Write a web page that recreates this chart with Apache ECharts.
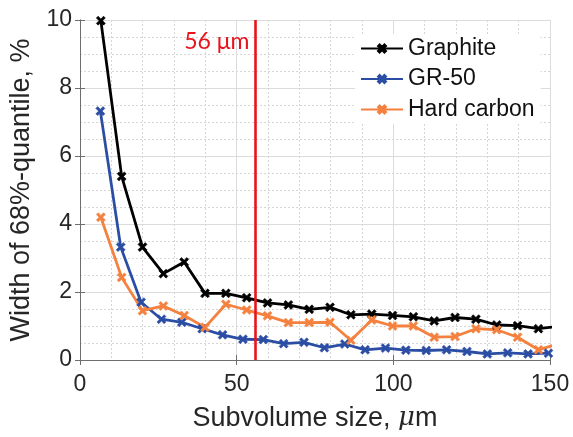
<!DOCTYPE html>
<html>
<head>
<meta charset="utf-8">
<script src="https://cdn.jsdelivr.net/npm/echarts@6/dist/echarts.min.js"></script>
<style>
  html, body { margin: 0; padding: 0; background: #fff; }
  #chart { width: 573px; height: 437px; }
</style>
</head>
<body>
<div id="chart"></div>
<script>
// Subvolume sizes (µm) used for Graphite and Hard carbon
const sizesGraphite = [6.65, 13.3, 19.95, 26.6, 33.25, 39.9, 46.55, 53.2, 59.85, 66.5, 73.15, 79.8,
  86.45, 93.1, 99.75, 106.4, 113.05, 119.7, 126.35, 133, 139.65, 146.3, 152.95];
// Subvolume sizes (µm) used for GR-50
const sizesGR50 = [6.5, 13, 19.5, 26, 32.5, 39, 45.5, 52, 58.5, 65, 71.5, 78,
  84.5, 91, 97.5, 104, 110.5, 117, 123.5, 130, 136.5, 143, 149.5];

// Width of the 68%-quantile, %
const graphite = [9.98, 5.4, 3.32, 2.54, 2.88, 1.96, 1.96, 1.83, 1.68, 1.62, 1.49, 1.55,
  1.33, 1.35, 1.31, 1.27, 1.15, 1.25, 1.20, 1.03, 1.01, 0.92, 0.99];
const gr50 = [7.32, 3.32, 1.70, 1.20, 1.11, 0.92, 0.74, 0.61, 0.60, 0.48, 0.52, 0.36,
  0.47, 0.30, 0.35, 0.29, 0.28, 0.30, 0.25, 0.18, 0.21, 0.18, 0.20];
const hardCarbon = [4.20, 2.43, 1.45, 1.59, 1.31, 0.96, 1.64, 1.47, 1.30, 1.10, 1.10, 1.11,
  0.58, 1.18, 1.00, 1.00, 0.67, 0.69, 0.92, 0.89, 0.67, 0.30, 0.48];

const seriesNames = ['Graphite', 'GR-50', 'Hard carbon'];
const xTicks = [0, 50, 100, 150];
const yTicks = [0, 2, 4, 6, 8, 10];
const cutoffSize = 56;
const cutoffLabel = '56 μm';

const axisFont = 'Liberation Sans, Arial, sans-serif';
const textColor = '#262626';
const axisColor = '#6e6e6e';
// filled "x" marker
const crossMark = 'path://M0,2L2,0L5,3L8,0L10,2L7,5L10,8L8,10L5,7L2,10L0,8L3,5Z';

function pairs(xs, ys) { return xs.map((x, i) => [x, ys[i]]); }

function makeSeries(name, xs, ys, color, extra) {
  return Object.assign({
    name: name,
    type: 'line',
    data: pairs(xs, ys),
    symbol: crossMark,
    symbolSize: 9,
    clip: true,
    lineStyle: { color: color, width: 2.8 },
    itemStyle: { color: color, borderColor: color, borderWidth: 0.6 },
    emphasis: { disabled: true },
    z: 3
  }, extra || {});
}

const chart = echarts.init(document.getElementById('chart'), null, { renderer: 'canvas' });

const boxAxis = {
  axisLine: { show: true, lineStyle: { color: axisColor, width: 1 } },
  axisTick: { show: true, inside: true, length: 5, lineStyle: { color: axisColor } },
  axisLabel: { show: false },
  splitLine: { show: false },
  minorSplitLine: { show: false }
};

chart.setOption({
  animation: false,
  backgroundColor: '#fff',
  grid: { left: 80, right: 23, top: 20, bottom: 75 },
  legend: {
    data: seriesNames,
    orient: 'vertical',
    left: 355,
    top: 34,
    padding: [3, 6, 3, 5],
    backgroundColor: '#fff',
    itemWidth: 42,
    itemHeight: 10,
    itemGap: 7.5,
    textStyle: { fontFamily: axisFont, fontSize: 23, color: '#111' }
  },
  xAxis: [{
    type: 'value',
    min: xTicks[0],
    max: xTicks[xTicks.length - 1],
    interval: 50,
    name: 'Subvolume size, {mu|μ}m',
    nameLocation: 'middle',
    nameGap: 45,
    nameTextStyle: {
      fontFamily: axisFont, fontSize: 27, color: textColor,
      rich: { mu: { fontFamily: 'DejaVu Serif, serif', fontStyle: 'italic', fontSize: 26, color: textColor } }
    },
    axisLine: { show: true, onZero: false, lineStyle: { color: axisColor, width: 1 } },
    axisTick: { show: true, inside: true, length: 5, lineStyle: { color: axisColor } },
    axisLabel: { fontFamily: axisFont, fontSize: 23, color: textColor, margin: 13 },
    splitLine: { show: true, lineStyle: { color: '#dcdcdc', width: 1 } },
    minorTick: { show: false, splitNumber: 5 },
    minorSplitLine: { show: true, lineStyle: { color: '#d6d6d6', width: 1, type: [2, 2] } }
  }, Object.assign({
    type: 'value', position: 'top', min: 0, max: 150, interval: 50
  }, boxAxis)],
  yAxis: [{
    type: 'value',
    min: yTicks[0],
    max: yTicks[yTicks.length - 1],
    interval: 2,
    name: 'Width of 68%-quantile, %',
    nameLocation: 'middle',
    nameGap: 42,
    nameTextStyle: { fontFamily: axisFont, fontSize: 27, color: textColor },
    axisLine: { show: true, onZero: false, lineStyle: { color: axisColor, width: 1 } },
    axisTick: { show: true, inside: true, length: 5, lineStyle: { color: axisColor } },
    axisLabel: { fontFamily: axisFont, fontSize: 23, color: textColor, margin: 8 },
    splitLine: { show: true, lineStyle: { color: '#dcdcdc', width: 1 } },
    minorTick: { show: false, splitNumber: 4 },
    minorSplitLine: { show: true, lineStyle: { color: '#d6d6d6', width: 1, type: [2, 2] } }
  }, Object.assign({
    type: 'value', position: 'right', min: 0, max: 10, interval: 2
  }, boxAxis)],
  series: [
    makeSeries(seriesNames[0], sizesGraphite, graphite, '#000000', {
      markLine: {
        silent: true,
        symbol: 'none',
        label: { show: false },
        lineStyle: { color: '#e8141c', width: 2.6, type: 'solid' },
        data: [{ xAxis: cutoffSize }]
      },
      markPoint: {
        silent: true,
        symbol: 'circle',
        symbolSize: 0,
        data: [{ coord: [cutoffSize, 9.37] }],
        label: {
          show: true,
          position: 'left',
          distance: 6,
          formatter: cutoffLabel,
          fontFamily: 'Lato, sans-serif',
          fontSize: 23,
          color: '#e8141c'
        }
      }
    }),
    makeSeries(seriesNames[1], sizesGR50, gr50, '#2b4ea4'),
    makeSeries(seriesNames[2], sizesGraphite, hardCarbon, '#f5813f')
  ]
});
</script>
</body>
</html>
